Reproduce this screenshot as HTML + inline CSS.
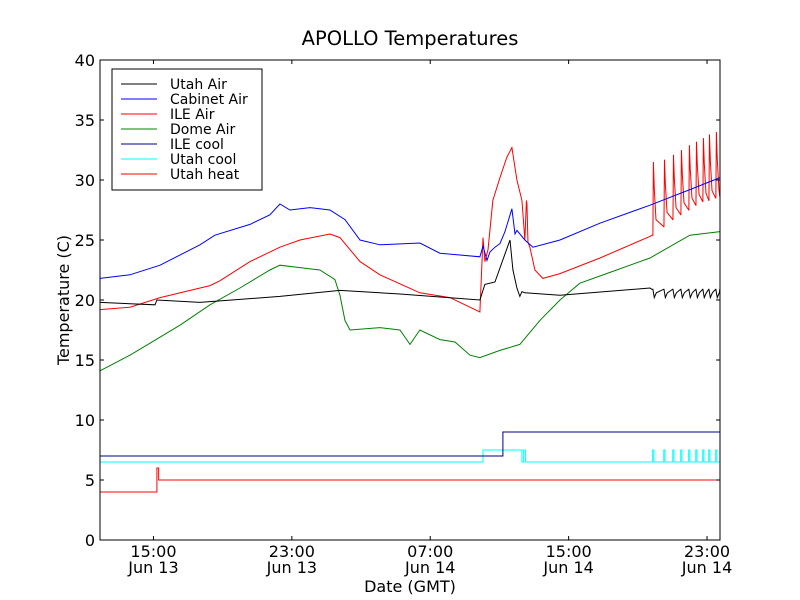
<!DOCTYPE html>
<html><head><meta charset="utf-8"><style>
body{margin:0;background:#fff;}
svg{display:block;font-family:"DejaVu Sans","Liberation Sans",sans-serif;}
</style></head><body>
<svg id="chart" width="800" height="600" viewBox="0 0 800 600">
<rect x="0" y="0" width="800" height="600" fill="#fff"/>
<text x="410" y="45" font-size="19.5" text-anchor="middle">APOLLO Temperatures</text>
<g id="plot"></g>
<g id="axes"></g>
<text transform="translate(69,300) rotate(-90)" font-size="16" text-anchor="middle">Temperature (C)</text>
<text x="410" y="592" font-size="16" text-anchor="middle">Date (GMT)</text>
<g id="legend"></g>
</svg>
<script>
// hours since 00:00 Jun 13 (GMT)
const xTicks = [15, 23, 31, 39, 47];
const xTickTime = ["15:00","23:00","07:00","15:00","23:00"];
const xTickDate = ["Jun 13","Jun 13","Jun 14","Jun 14","Jun 14"];
const yTicks = [0,5,10,15,20,25,30,35,40];

const utahAirT = [11.91,15.09,15.20,17.69,22.31,25.78,29.25,33.87,34.16,34.74,35.61,35.78,36.01,36.18,36.30,36.47,38.5,43.7,43.80];
const utahAirV = [19.8,19.6,20.0,19.8,20.3,20.8,20.5,20.0,21.3,21.5,25.0,22.5,21.0,20.3,20.7,20.6,20.4,21.0,20.9];

const cabAirT = [11.91,13.64,15.38,17.69,18.55,20.58,21.73,22.31,22.89,24.05,25.20,26.07,26.94,28.09,30.40,31.56,33.87,34.05,34.28,34.45,34.74,35.03,35.32,35.72,35.90,36.01,36.47,36.94,38.50,40.81,43.70,46.01,47.75];
const cabAirV = [21.8,22.1,22.9,24.6,25.4,26.3,27.1,28.0,27.5,27.7,27.5,26.7,25.0,24.6,24.75,23.9,23.6,24.5,23.3,24.0,24.4,24.7,25.7,27.6,25.5,25.8,25.0,24.4,25.0,26.4,27.9,29.2,30.2];

const ileAirT = [11.91,13.64,15.38,18.27,18.84,20.58,22.31,23.47,25.20,25.78,26.94,28.09,30.40,32.14,33.87,34.05,34.16,34.34,34.62,35.03,35.43,35.72,36.01,36.30,36.47,36.56,36.59,36.65,36.76,37.05,37.51,38.5,40.81,43.70,43.80];
const ileAirV = [19.2,19.4,20.2,21.2,21.6,23.2,24.4,25.0,25.5,25.2,23.2,22.1,20.6,20.2,19.0,25.2,23.2,24.2,28.3,30.2,31.9,32.7,30.0,28.3,25.0,28.3,28.0,24.8,24.4,22.5,21.8,22.2,23.5,25.3,25.4];

const spikeT = [43.87,44.51,45.03,45.49,45.95,46.36,46.76,47.11,47.51];
const spikePeak = [31.5,31.7,32.1,32.5,32.9,33.2,33.5,33.8,34.0];
const spikeMin = [26.1,26.7,27.1,27.5,27.9,28.2,28.3,28.5,28.6];

const domeT = [11.91,13.64,14.80,16.53,18.27,20.00,21.73,22.31,23.47,24.62,25.49,25.78,26.07,26.36,28.09,29.25,29.83,30.40,31.56,32.43,33.30,33.87,35.03,36.18,37.34,38.50,39.65,41.39,43.70,46.01,47.75];
const domeV = [14.1,15.4,16.4,17.9,19.6,21.0,22.5,22.9,22.7,22.5,21.7,20.4,18.3,17.5,17.7,17.5,16.3,17.5,16.7,16.5,15.4,15.2,15.8,16.3,18.3,20.0,21.4,22.3,23.5,25.4,25.7];

const ileCoolT = [11.91,35.20,35.20,47.75];
const ileCoolV = [7,7,9,9];
const utahCoolBaseT = [11.91,34.05,34.05,36.30,36.30,36.40,36.40,36.50,36.50];
const utahCoolBaseV = [6.5,6.5,7.5,7.5,6.5,6.5,7.5,7.5,6.5];
const utahHeatT = [11.91,15.20,15.20,15.30,15.30,47.75];
const utahHeatV = [4,4,6,6,5,5];

const X0=100,X1=720,Y0=540,Y1=60,TMIN=11.91,TMAX=47.75;
const xs=t=>X0+(t-TMIN)/(TMAX-TMIN)*(X1-X0);
const ys=v=>Y0-(v/40)*(Y0-Y1);
const NS="http://www.w3.org/2000/svg";
const plot=document.getElementById('plot'), axes=document.getElementById('axes'), legend=document.getElementById('legend');

function mk(tag,attrs,parent){const e=document.createElementNS(NS,tag);for(const k in attrs)e.setAttribute(k,attrs[k]);parent.appendChild(e);return e;}
function line(T,V,color,name){
  const d=T.map((t,i)=>(i?'L':'M')+xs(t).toFixed(2)+','+ys(V[i]).toFixed(2)).join('');
  const p=mk('path',{d:d,fill:'none',stroke:color,'stroke-width':1},plot);
  
  
}

const ileT=ileAirT.slice(), ileV=ileAirV.slice();
const uaT=utahAirT.slice(), uaV=utahAirV.slice();
const ucT=utahCoolBaseT.slice(), ucV=utahCoolBaseV.slice();
for(let i=0;i<spikeT.length;i++){
  const t=spikeT[i], next=i+1<spikeT.length?spikeT[i+1]:TMAX;
  ileT.push(t,t+0.03,t+0.08,t+0.18,next-0.01); ileV.push(ileV[ileV.length-1],spikePeak[i],(spikePeak[i]+spikeMin[i])/2+0.5,spikeMin[i]+0.6,spikeMin[i]);
  uaT.push(t,t+0.08,t+0.2,next-0.01); uaV.push(20.9,20.2,20.6,20.9);
  ucT.push(t-0.01,t-0.01,t+0.06,t+0.06); ucV.push(6.5,7.5,7.5,6.5);
}
uaT.push(TMAX); uaV.push(20.9);
ucT.push(TMAX); ucV.push(6.5);

line(utahHeatT,utahHeatV,'#ff0000','utah-heat-line');
line(ucT,ucV,'#00ffff','utah-cool-line');
line(ileCoolT,ileCoolV,'#000080','ile-cool-line');
line(domeT,domeV,'#008000','dome-air-line');
line(ileT,ileV,'#ff0000','ile-air-line');
line(cabAirT,cabAirV,'#0000ff','cabinet-air-line');
line(uaT,uaV,'#000000','utah-air-line');

const fr=mk('rect',{x:X0,y:Y1,width:X1-X0,height:Y0-Y1,fill:'none',stroke:'#000','stroke-width':1},axes);


yTicks.forEach(v=>{
  const y=ys(v);
  mk('line',{x1:X0,y1:y,x2:X0+4,y2:y,stroke:'#000'},axes);
  mk('line',{x1:X1,y1:y,x2:X1-4,y2:y,stroke:'#000'},axes);
  const t=mk('text',{x:X0-5,y:y+6,'font-size':16,'text-anchor':'end'},axes);
  t.textContent=v;
  
  
});
xTicks.forEach((h,i)=>{
  const x=xs(h);
  mk('line',{x1:x,y1:Y0,x2:x,y2:Y0-4,stroke:'#000'},axes);
  mk('line',{x1:x,y1:Y1,x2:x,y2:Y1+4,stroke:'#000'},axes);
  const t=mk('text',{x:x,y:557,'font-size':16,'text-anchor':'middle'},axes);
  t.textContent=xTickTime[i];
  
  
  const d=mk('text',{x:x,y:573,'font-size':16,'text-anchor':'middle'},axes);
  d.textContent=xTickDate[i];
  
  
});

const legNames=["Utah Air","Cabinet Air","ILE Air","Dome Air","ILE cool","Utah cool","Utah heat"];
const legColors=["#000000","#0000ff","#ff0000","#008000","#000080","#00ffff","#ff0000"];
const lb=mk('rect',{x:112,y:69,width:150,height:121,fill:'#fff',stroke:'#000'},legend);


legNames.forEach((n,i)=>{
  const y=84+i*15;
  const g=mk('g',{},legend);
  
  
  mk('line',{x1:121,y1:y,x2:157,y2:y,stroke:legColors[i]},g);
  const t=mk('text',{x:170,y:y+5,'font-size':14},g);
  t.textContent=n;
});
</script>
</body></html>
